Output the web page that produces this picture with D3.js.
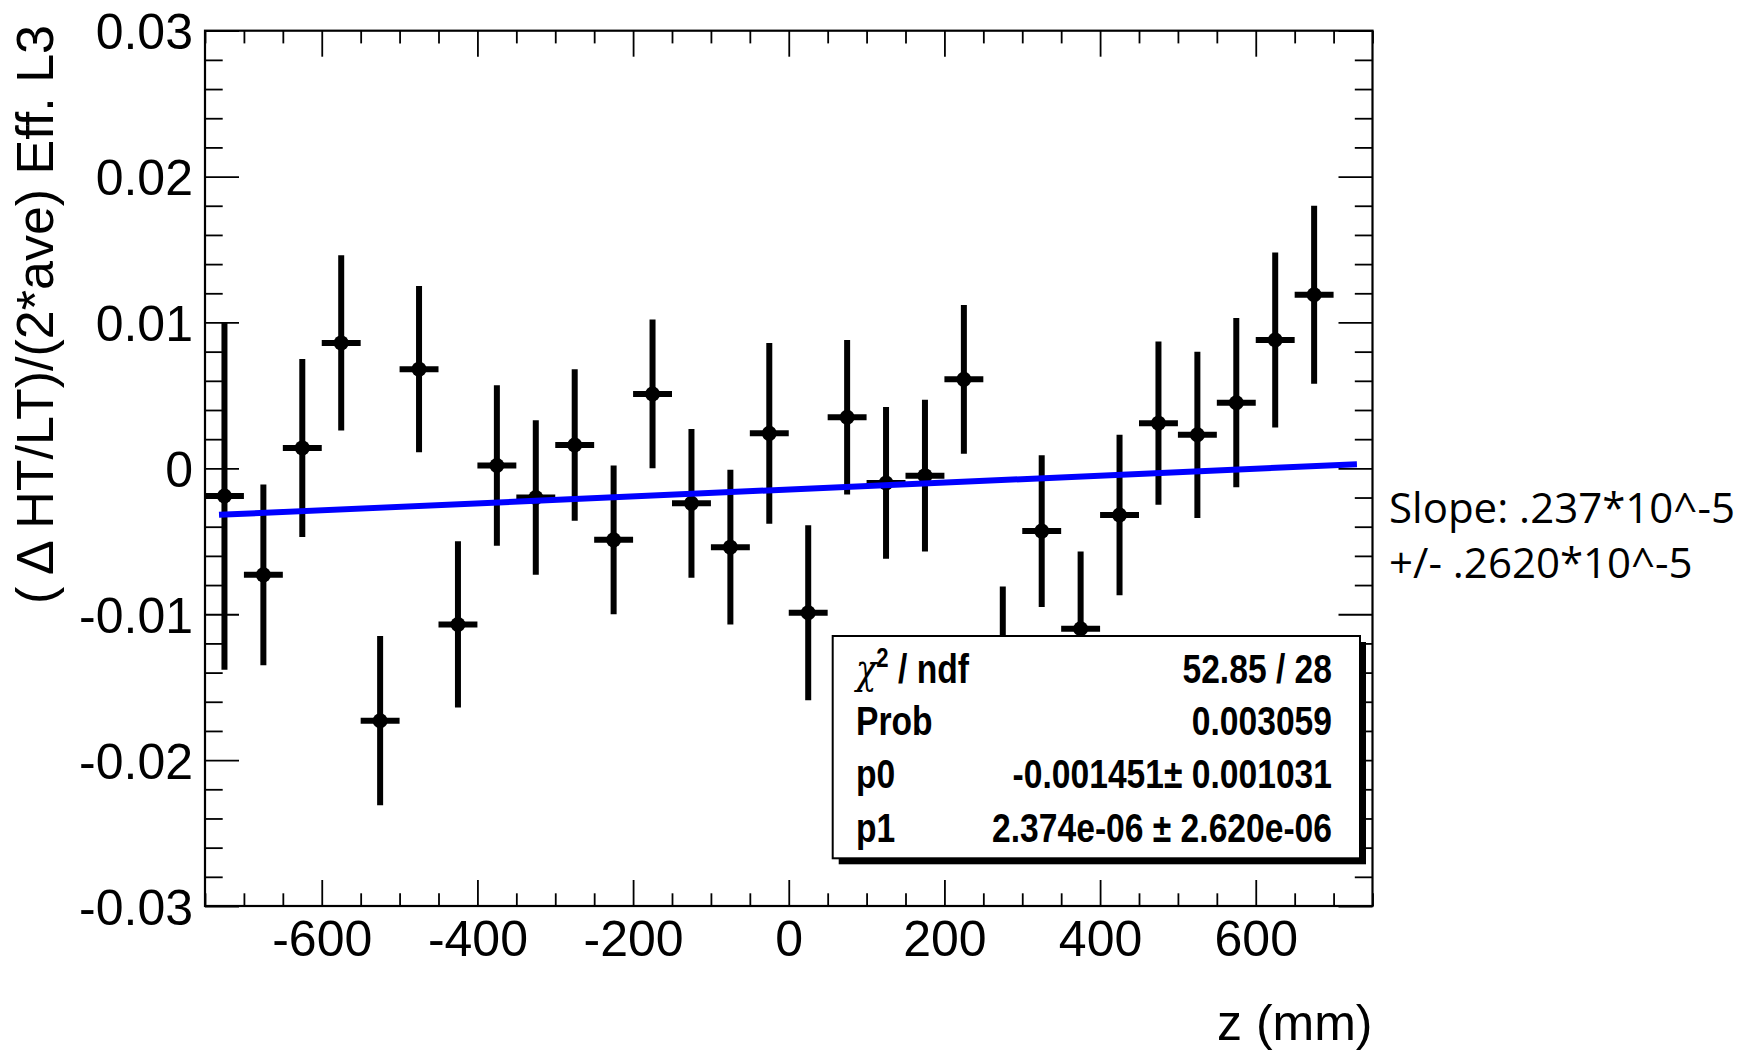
<!DOCTYPE html>
<html>
<head>
<meta charset="utf-8">
<script src="https://cdn.jsdelivr.net/npm/d3@7"></script>
<style>
  body { margin:0; background:#fff; }
  svg { display:block; }
  .ax text { font-family:"Liberation Sans", Arial, sans-serif; font-size:50px; fill:#000; }
  .ax line { stroke:#000; stroke-width:1.8; }
  .ax path { display:none; }
  .stat { font-family:"Liberation Sans", Arial, sans-serif; font-weight:bold; font-size:41px; }
</style>
</head>
<body>
<svg id="chart" width="1744" height="1054"></svg>
<script>
// bin centres (mm), bin half width
var zbins = [-725,-675,-625,-575,-525,-475,-425,-375,-325,-275,-225,-175,-125,-75,-25,
             25,75,125,175,225,275,325,375,425,475,525,575,625,675];
var halfw = 25;
// ( d HT/LT)/(2*ave) per bin
var effvals = [-0.0019,-0.0073,0.0014,0.0086,-0.0173,0.0068,-0.0107,0.0002,-0.0020,0.0016,
               -0.0049,0.0051,-0.0024,-0.0054,0.0024,-0.0099,0.0035,-0.0010,-0.0005,0.0061,
               -0.0137,-0.0043,-0.0110,-0.0032,0.0031,0.0023,0.0045,0.0088,0.0119];
var efferrs = [0.0119,0.0062,0.0061,0.0060,0.0058,0.0057,0.0057,0.0055,0.0053,0.0052,
               0.0051,0.0051,0.0051,0.0053,0.0062,0.0060,0.0053,0.0052,0.0052,0.0051,
               0.0056,0.0052,0.0053,0.0055,0.0056,0.0057,0.0058,0.0060,0.0061];

// pol1 fit
var p0 = -0.001451, p1 = 2.374e-06;
var fitrange = [-732, 730];

var xmajor = [-600,-400,-200,0,200,400,600];
var ymajor = [-0.03,-0.02,-0.01,0,0.01,0.02,0.03];

var statlabels = ["Prob","p0","p1"];
var statvalues = ["52.85 / 28","0.003059","-0.001451\u00b1 0.001031","2.374e-06 \u00b1 2.620e-06"];
var slopelines = ["Slope: .237*10^-5","+/- .2620*10^-5"];

var svg = d3.select("#chart");
var x = d3.scaleLinear().domain([-750,750]).range([205,1372.5]);
var y = d3.scaleLinear().domain([-0.03,0.03]).range([906,30.7]);

var xminor = d3.range(-750,751,50).filter(function(d){ return xmajor.indexOf(d) < 0; });
var yminor = d3.range(-30,31,2).map(function(d){ return d/1000; })
               .filter(function(d){ return Math.round(d*1000) % 10 != 0; });

var x0=x.range()[0], x1=x.range()[1], y0=y.range()[1], y1=y.range()[0];

// axes, ROOT style ticks inside the frame
function axis(gen, tx, ty) {
  return svg.append("g").attr("class","ax").attr("transform","translate("+tx+","+ty+")").call(gen);
}
axis(d3.axisBottom(x).tickValues(xmajor).tickSize(-26).tickSizeOuter(0).tickPadding(14.5)
     .tickFormat(function(d){ return String(d); }), 0, y1);
axis(d3.axisBottom(x).tickValues(xminor).tickSize(-12.7).tickSizeOuter(0).tickFormat(""), 0, y1);
axis(d3.axisTop(x).tickValues(xmajor).tickSize(-26).tickSizeOuter(0).tickFormat(""), 0, y0);
axis(d3.axisTop(x).tickValues(xminor).tickSize(-12.7).tickSizeOuter(0).tickFormat(""), 0, y0);

var ly = axis(d3.axisLeft(y).tickValues(ymajor).tickSize(-34).tickSizeOuter(0).tickPadding(12)
         .tickFormat(function(d){ return Math.abs(d) < 1e-9 ? "0" : d.toFixed(2); }), x0, 0);
ly.selectAll("text").attr("dy","0.36em");
axis(d3.axisLeft(y).tickValues(yminor).tickSize(-17.7).tickSizeOuter(0).tickFormat(""), x0, 0);
axis(d3.axisRight(y).tickValues(ymajor).tickSize(-34).tickSizeOuter(0).tickFormat(""), x1, 0);
axis(d3.axisRight(y).tickValues(yminor).tickSize(-17.7).tickSizeOuter(0).tickFormat(""), x1, 0);

svg.append("rect")
  .attr("x",x0).attr("y",y0).attr("width",x1-x0).attr("height",y1-y0)
  .attr("fill","none").attr("stroke","#000").attr("stroke-width",2.2);

// data points with error bars
var pts = zbins.map(function(z,i){ return {z:z, v:effvals[i], e:efferrs[i]}; });
var gp = svg.append("g").attr("class","points");
var pt = gp.selectAll("g").data(pts).enter().append("g");
pt.append("line")
  .attr("x1",function(d){ return x(d.z); }).attr("x2",function(d){ return x(d.z); })
  .attr("y1",function(d){ return y(d.v+d.e); }).attr("y2",function(d){ return y(d.v-d.e); })
  .attr("stroke","#000").attr("stroke-width",6);
pt.append("line")
  .attr("x1",function(d){ return x(d.z-halfw); }).attr("x2",function(d){ return x(d.z+halfw); })
  .attr("y1",function(d){ return y(d.v); }).attr("y2",function(d){ return y(d.v); })
  .attr("stroke","#000").attr("stroke-width",6);
pt.append("circle")
  .attr("cx",function(d){ return x(d.z); }).attr("cy",function(d){ return y(d.v); })
  .attr("r",7.5).attr("fill","#000");

// fit line
svg.append("line")
  .attr("x1",x(fitrange[0])).attr("y1",y(p0+p1*fitrange[0]))
  .attr("x2",x(fitrange[1])).attr("y2",y(p0+p1*fitrange[1]))
  .attr("stroke","#0000ff").attr("stroke-width",6);

// stats box
var bx=832.7, by=636, bw=527.3, bh=222.3;
svg.append("rect").attr("x",bx+6).attr("y",by+6).attr("width",bw).attr("height",bh).attr("fill","#000");
svg.append("rect").attr("x",bx).attr("y",by).attr("width",bw).attr("height",bh)
  .attr("fill","#fff").attr("stroke","#000").attr("stroke-width",2);

// narrow helvetica look: squeeze the bold text sideways
var rowsy = [683,735,788,842], squeeze = 0.82;
var chi = svg.append("text").attr("class","stat")
  .attr("transform","translate(856,"+rowsy[0]+") scale("+squeeze+",1)");
chi.append("tspan").style("font-weight","normal").style("font-family","'DejaVu Serif', serif").style("font-style","italic").text("\u03c7");
chi.append("tspan").attr("dy",-16).style("font-size","27px").text("2");
chi.append("tspan").attr("dy",16).text(" / ndf");

svg.selectAll(".slab").data(statlabels).enter().append("text")
  .attr("class","stat slab")
  .attr("transform",function(d,i){ return "translate(856,"+rowsy[i+1]+") scale("+squeeze+",1)"; })
  .text(function(d){ return d; });
svg.selectAll(".sval").data(statvalues).enter().append("text")
  .attr("class","stat sval")
  .attr("transform",function(d,i){ return "translate(1332,"+rowsy[i]+") scale("+squeeze+",1)"; })
  .attr("text-anchor","end")
  .text(function(d){ return d; });

// axis titles
svg.append("text")
  .attr("transform","translate(53,25) rotate(-90)")
  .attr("text-anchor","end")
  .style("font-family","'Liberation Sans', Arial, sans-serif").style("font-size","52px")
  .text("( \u0394 HT/LT)/(2*ave) Eff. L3");
svg.append("text")
  .attr("x",x1).attr("y",1040).attr("text-anchor","end")
  .style("font-family","'Liberation Sans', Arial, sans-serif").style("font-size","50px")
  .text("z (mm)");

// slope note at right
svg.selectAll(".slope").data(slopelines).enter().append("text")
  .attr("class","slope")
  .attr("x",1389).attr("y",function(d,i){ return 523+55*i; })
  .style("font-family","'Open Sans', sans-serif").style("font-size","42px")
  .text(function(d){ return d; });
</script>
</body>
</html>
